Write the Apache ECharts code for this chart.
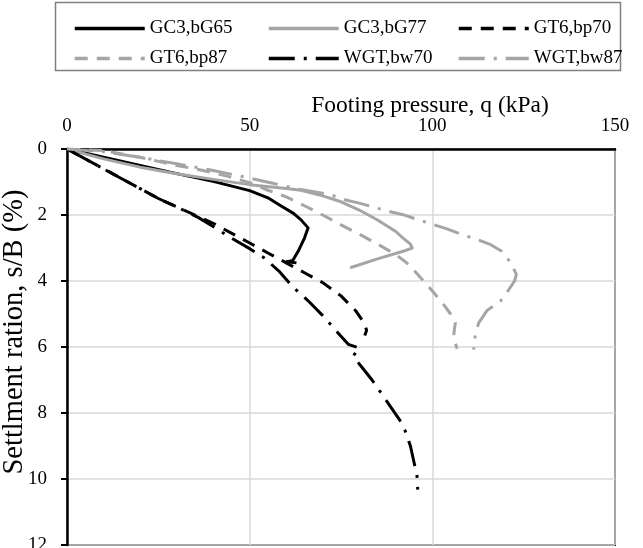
<!DOCTYPE html>
<html><head><meta charset="utf-8">
<script src="https://cdn.jsdelivr.net/npm/echarts@6/dist/echarts.min.js"></script>
<style>html,body{margin:0;padding:0;background:#fff}#c{width:643px;height:548px}</style>
</head><body><div id="c"></div>
<script>
// Footing pressure q (kPa) vs settlement ratio s/B (%)
const qGC3_bG65 = [0,10,20,31,40,50,55,58.5,62,64,66,65,63.5,61.8,60,62.8];
const sGC3_bG65 = [0,0.25,0.5,0.77,0.98,1.26,1.48,1.72,1.95,2.14,2.39,2.7,3.05,3.38,3.42,3.45];

const qGC3_bG77 = [0,10,20,30,40,50,60,64,70,75,80,85,90,92,94,94.5,92,85,77.5];
const sGC3_bG77 = [0,0.3,0.55,0.75,0.92,1.08,1.2,1.25,1.42,1.6,1.85,2.15,2.5,2.7,2.88,3.0,3.1,3.33,3.6];

const qGT6_bp70 = [0,5,10,15,20,25,30,35,40,45,50,55,60,65,70,75,79,81.5,82,81.5];
const sGT6_bp70 = [0,0.3,0.6,0.9,1.2,1.5,1.75,2.0,2.25,2.55,2.85,3.15,3.45,3.75,4.05,4.45,4.9,5.3,5.5,5.65];

const qGT6_bp87 = [0,10,20,30,35,40,44,50,55,60,65,70,75,80,85,90,93,96,100,103,105,106.3,106,105.8,106.8];
const sGT6_bp87 = [0,0.05,0.25,0.5,0.6,0.72,0.83,1.02,1.25,1.45,1.72,2.0,2.3,2.58,2.88,3.2,3.45,3.8,4.3,4.7,5.0,5.27,5.5,5.73,6.05];

const qWGT_bw70 = [0,5,10,15,20,25,30,36,40,45,50,54,58,62,66,70,74,77,80,78.3,81,83.5,86,88.5,91,92.6,94,95,95.8,96];
const sWGT_bw70 = [0,0.3,0.6,0.9,1.2,1.5,1.75,2.08,2.35,2.7,3.02,3.3,3.7,4.2,4.6,5.05,5.55,5.92,6.03,6.28,6.65,7.0,7.4,7.8,8.2,8.55,9.0,9.5,9.9,10.32];

const qWGT_bw87 = [0,10,20,30,40,50,56,60,64,72,76,80,88,92,96,104,108,112,116,119,121.5,123,122.5,121,118.6,115,112.7,111.8,111.3];
const sWGT_bw87 = [0,0.08,0.25,0.45,0.65,0.88,1.03,1.13,1.23,1.38,1.54,1.64,1.89,1.99,2.14,2.42,2.59,2.73,2.9,3.1,3.45,3.8,4.0,4.25,4.62,4.89,5.27,5.6,6.08];

const seriesNames = ['GC3,bG65','GC3,bG77','GT6,bp70','GT6,bp87','WGT,bw70','WGT,bw87'];
const xRange = [0, 150], xStep = 50;
const yRange = [0, 12], yStep = 2;

const FONT = 'Liberation Serif';
const BLACK = '#000000', GRAY = '#A5A5A5';
const DASH = [13, 9], DASHDOT = [26, 9, 3, 9];

function zip(q, s) { return q.map((v, i) => [v, s[i]]); }

const defs = [
  {name: seriesNames[0], data: zip(qGC3_bG65, sGC3_bG65), color: BLACK, type: 'solid'},
  {name: seriesNames[1], data: zip(qGC3_bG77, sGC3_bG77), color: GRAY, type: 'solid'},
  {name: seriesNames[2], data: zip(qGT6_bp70, sGT6_bp70), color: BLACK, type: DASH},
  {name: seriesNames[3], data: zip(qGT6_bp87, sGT6_bp87), color: GRAY, type: DASH},
  {name: seriesNames[4], data: zip(qWGT_bw70, sWGT_bw70), color: BLACK, type: DASHDOT},
  {name: seriesNames[5], data: zip(qWGT_bw87, sWGT_bw87), color: GRAY, type: DASHDOT}
];

const legendBase = {
  orient: 'vertical', top: 14, itemWidth: 70, itemHeight: 3, itemGap: 11,
  itemStyle: {opacity: 0},
  lineStyle: {width: 3.5},
  textStyle: {fontFamily: FONT, fontSize: 19, color: '#000'}, selectedMode: false
};

const chart = echarts.init(document.getElementById('c'), null, {renderer: 'canvas'});
chart.setOption({
  animation: false,
  backgroundColor: '#fff',
  grid: {left: 67, top: 149, width: 548, height: 396, show: true, borderColor: '#111', borderWidth: 2,
         backgroundColor: 'transparent', containLabel: false, outerBoundsMode: 'none'},
  legend: [
    Object.assign({}, legendBase, {left: 68, data: [seriesNames[0], seriesNames[3]]}),
    Object.assign({}, legendBase, {left: 262, data: [seriesNames[1], seriesNames[4]]}),
    Object.assign({}, legendBase, {left: 452, data: [seriesNames[2], seriesNames[5]]})
  ],
  graphic: [{
    type: 'rect', shape: {x: 55.5, y: 2.5, width: 565, height: 68},
    style: {fill: 'none', stroke: '#808080', lineWidth: 1.5}, silent: true
  }],
  xAxis: {
    type: 'value', position: 'top', min: xRange[0], max: xRange[1], interval: xStep,
    axisLine: {show: true, lineStyle: {color: '#000', width: 2.5}},
    axisTick: {show: false},
    axisLabel: {fontFamily: FONT, fontSize: 19, color: '#000', margin: 13},
    splitLine: {show: true, lineStyle: {color: '#D9D9D9', width: 1.5}},
    name: 'Footing pressure, q (kPa)', nameLocation: 'middle', nameGap: 31, nameMoveOverlap: false,
    nameTextStyle: {fontFamily: FONT, fontSize: 23.5, color: '#000', padding: [0, 0, 0, 178]}
  },
  yAxis: {
    type: 'value', inverse: true, min: yRange[0], max: yRange[1], interval: yStep,
    axisLine: {show: true, lineStyle: {color: '#000', width: 2.5}},
    axisTick: {show: true, length: 6, lineStyle: {color: '#000', width: 2}},
    axisLabel: {fontFamily: FONT, fontSize: 19, color: '#000', margin: 20},
    splitLine: {show: true, lineStyle: {color: '#D9D9D9', width: 1.5}},
    name: 'Settlment ration, s/B (%)', nameLocation: 'middle', nameGap: 38, nameRotate: 90, nameMoveOverlap: false,
    nameTextStyle: {fontFamily: FONT, fontSize: 28.5, color: '#000', padding: [0, 0, 0, 30]}
  },
  series: defs.map(d => ({
    name: d.name, type: 'line', data: d.data, symbol: 'none', showSymbol: false,
    smooth: false, clip: true,
    lineStyle: {color: d.color, width: 3, type: d.type, cap: 'butt', join: 'round'},
    itemStyle: {color: d.color}
  }))
});
</script></body></html>
